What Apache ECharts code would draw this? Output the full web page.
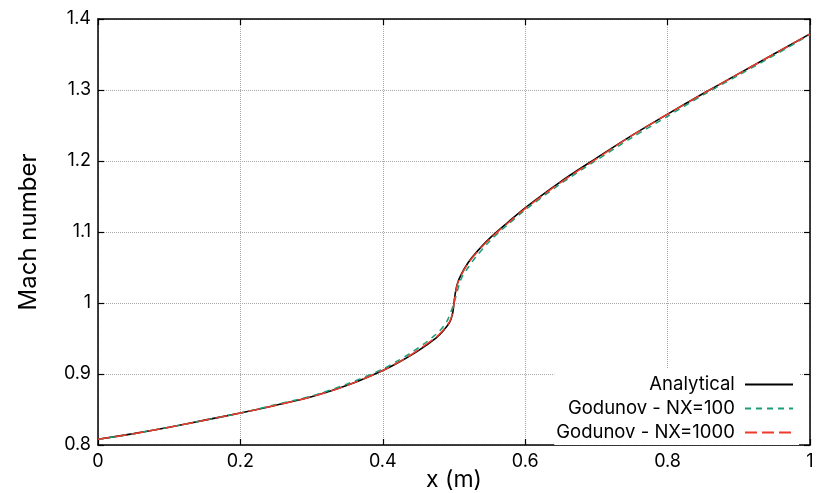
<!DOCTYPE html>
<html>
<head>
<meta charset="utf-8">
<script src="https://cdn.jsdelivr.net/npm/echarts@6/dist/echarts.min.js"></script>
<style>
html,body{margin:0;padding:0;background:#fff;}
#chart{width:830px;height:493px;}
</style>
</head>
<body>
<div id="chart"></div>
<script>
// Analytical solution
const xAnalytical = [0.000,0.050,0.100,0.150,0.200,0.250,0.300,0.350,0.400,0.425,0.450,0.475,0.485,0.494,0.498,0.500,0.502,0.505,0.510,0.520,0.532,0.550,0.575,0.600,0.650,0.700,0.750,0.800,0.850,0.900,0.950,1.000];
const mAnalytical = [0.808,0.816,0.825,0.835,0.845,0.856,0.868,0.884,0.905,0.918,0.933,0.951,0.961,0.973,0.985,1.000,1.015,1.028,1.040,1.057,1.072,1.091,1.113,1.134,1.171,1.204,1.236,1.266,1.295,1.323,1.351,1.379];
// Godunov NX=100
const xNX100 = [0.00,0.05,0.10,0.15,0.20,0.25,0.30,0.35,0.40,0.42,0.44,0.46,0.47,0.48,0.49,0.50,0.51,0.52,0.53,0.55,0.575,0.60,0.65,0.70,0.75,0.80,0.85,0.90,0.95,1.00];
const mNX100 = [0.808,0.816,0.825,0.835,0.845,0.857,0.869,0.886,0.907,0.918,0.930,0.944,0.952,0.961,0.974,1.000,1.034,1.050,1.064,1.087,1.110,1.131,1.168,1.201,1.233,1.263,1.293,1.321,1.349,1.378];
// Godunov NX=1000
const xNX1000 = [0.000,0.050,0.100,0.150,0.200,0.250,0.300,0.350,0.400,0.425,0.450,0.475,0.485,0.494,0.498,0.500,0.502,0.505,0.510,0.520,0.532,0.550,0.575,0.600,0.650,0.700,0.750,0.800,0.850,0.900,0.950,1.000];
const mNX1000 = [0.808,0.816,0.825,0.835,0.845,0.856,0.868,0.884,0.905,0.918,0.934,0.952,0.962,0.974,0.986,1.000,1.014,1.027,1.039,1.056,1.071,1.090,1.112,1.133,1.170,1.203,1.236,1.266,1.295,1.323,1.351,1.379];

const seriesNames = ['Analytical','Godunov - NX=100','Godunov - NX=1000'];
const xTicks = {min:0, max:1, interval:0.2};
const yTicks = {min:0.8, max:1.4, interval:0.1};

function pairs(xs, ys){ return xs.map((x,i)=>[x, ys[i]]); }

const FONT = 'Inter';
const chart = echarts.init(document.getElementById('chart'), null, {renderer:'canvas'});
const axisLine = {show:true, onZero:false, lineStyle:{color:'#000', width:1.5}};
const axisTick = {show:true, inside:true, length:6, lineStyle:{color:'#000', width:1.2}};
const splitLine = {show:true, lineStyle:{color:'#a8a8a8', type:'dotted', width:1}};

chart.setOption({
  animation:false,
  textStyle:{fontFamily:FONT},
  grid:{left:98, right:20, top:19, bottom:48, containLabel:false, outerBoundsMode:'none'},
  xAxis:[
    {type:'value', min:xTicks.min, max:xTicks.max, interval:xTicks.interval, position:'bottom',
     axisLine, axisTick, splitLine,
     axisLabel:{fontSize:18, color:'#000', margin:8, fontFamily:FONT},
     name:'x (m)', nameLocation:'middle', nameGap:24, nameMoveOverlap:false,
     nameTextStyle:{fontSize:23, color:'#000', fontFamily:FONT}},
    {type:'value', min:xTicks.min, max:xTicks.max, interval:xTicks.interval, position:'top',
     axisLine, axisTick, splitLine:{show:false}, axisLabel:{show:false}}
  ],
  yAxis:[
    {type:'value', min:yTicks.min, max:yTicks.max, interval:yTicks.interval, position:'left',
     axisLine, axisTick, splitLine,
     axisLabel:{fontSize:18, color:'#000', margin:7, fontFamily:FONT},
     name:'Mach number', nameLocation:'middle', nameGap:57, nameMoveOverlap:false,
     nameTextStyle:{fontSize:24, color:'#000', fontFamily:FONT}},
    {type:'value', min:yTicks.min, max:yTicks.max, interval:yTicks.interval, position:'right',
     axisLine, axisTick, splitLine:{show:false}, axisLabel:{show:false}}
  ],
  legend:{
    data:seriesNames, orient:'vertical', align:'right', right:31, top:368,
    itemWidth:48, itemHeight:14, itemGap:5, padding:[7,5,3,2],
    backgroundColor:'#fff',
    itemStyle:{opacity:0},
    formatter: n => n + ' ',
    textStyle:{fontSize:18.5, color:'#000', fontFamily:FONT}
  },
  series:[
    {name:seriesNames[0], type:'line', data:pairs(xAnalytical,mAnalytical), showSymbol:false, symbol:'none',
     smooth:0.3, lineStyle:{color:'#000', width:1.6}, itemStyle:{color:'#000'}},
    {name:seriesNames[1], type:'line', data:pairs(xNX100,mNX100), showSymbol:false, symbol:'none',
     smooth:0.3, lineStyle:{color:'#1b9e77', width:1.5, type:[6,5]}, itemStyle:{color:'#1b9e77'}},
    {name:seriesNames[2], type:'line', data:pairs(xNX1000,mNX1000), showSymbol:false, symbol:'none',
     smooth:0.3, lineStyle:{color:'#ee3a2a', width:1.5, type:[12,5]}, itemStyle:{color:'#ee3a2a'}}
  ]
});
</script>
</body>
</html>
